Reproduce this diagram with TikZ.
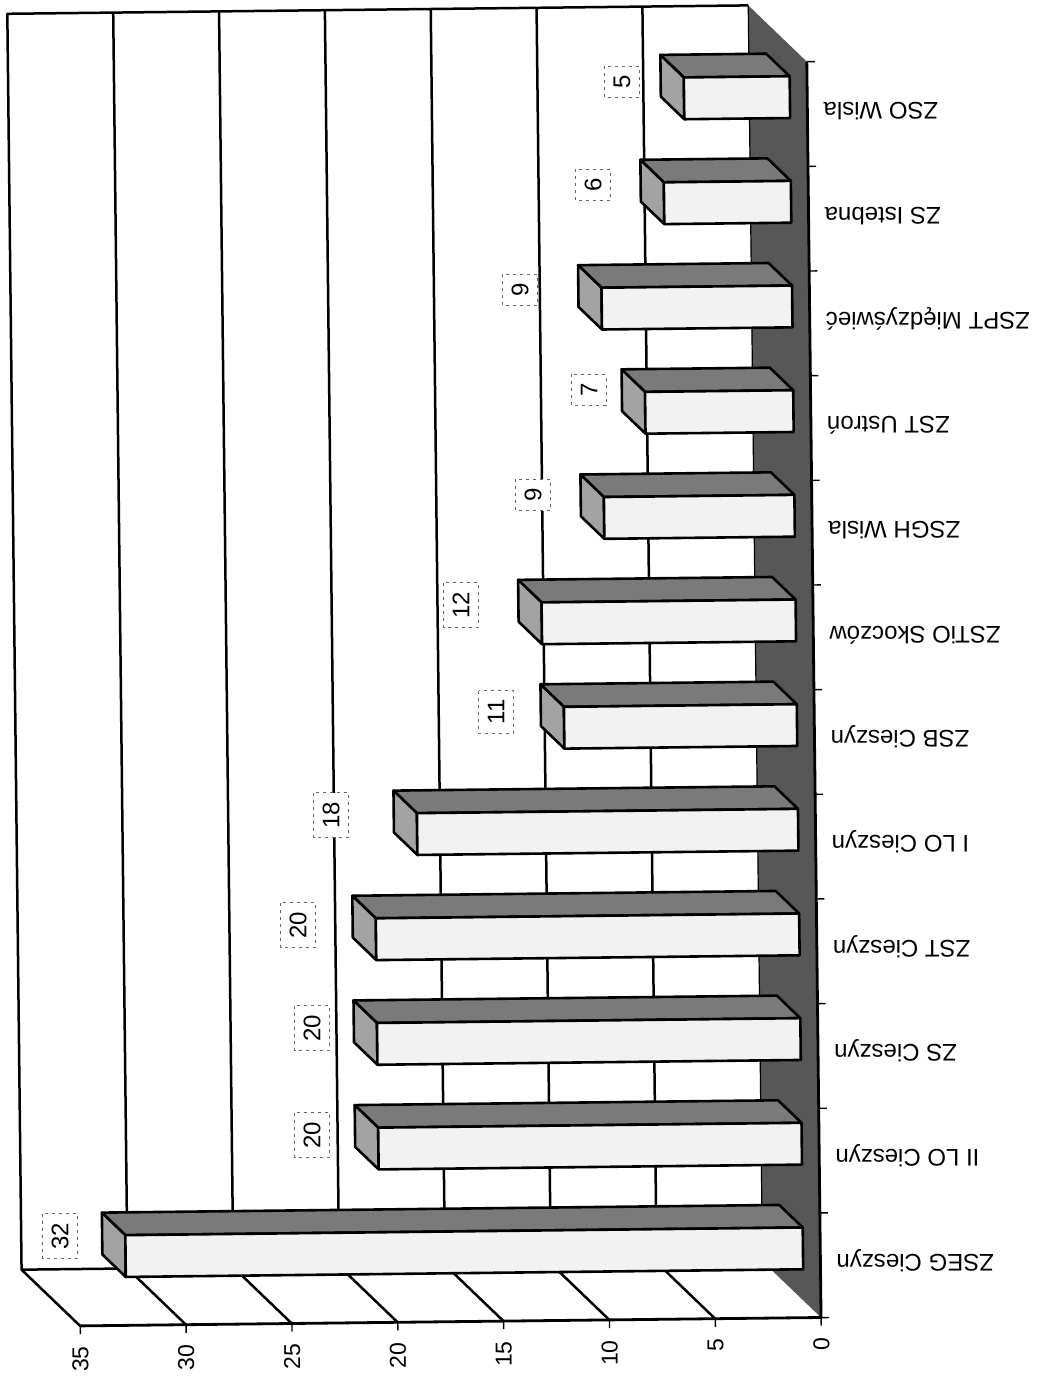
\documentclass[tikz,border=0pt]{standalone}
\usepackage{fontspec}
\setmainfont{Liberation Sans}
\begin{document}
\begin{tikzpicture}[x=1pt,y=-1pt,line join=round,
  axisline/.style={line width=2.8pt,black},
  gridl/.style={line width=2.5pt,black},
  barface/.style={draw=black,line width=2.6pt,fill=black!5},
  barside/.style={draw=black,line width=2.6pt,fill=black!52},
  barcap/.style={draw=black,line width=2.6pt,fill=black!36},
  floorc/.style={fill=black!66},
  catlab/.style={rotate=180,anchor=base east,inner sep=0pt,font=\fontsize{24}{28}\selectfont},
  vallab/.style={rotate=90,anchor=east,inner sep=0pt,font=\fontsize{23}{27}\selectfont},
  datlab/.style={rotate=90,draw=black!60,dash pattern=on 3pt off 4pt,line width=1.1pt,fill=white,inner sep=9pt,font=\fontsize{24}{28}\selectfont}]
\useasboundingbox (0,0) rectangle (1039,1377);
\fill[white] (0,0) rectangle (1039,1377);
\begin{scope}[rotate around={0.65:(520,690)}]
  % floor
  \fill[floorc] (756,8) -- (814,65) -- (814,1321) -- (756,1264) -- cycle;
  % back wall grid lines and side wall diagonals
  \foreach \v in {5,10,...,30}{
    \pgfmathsetmacro\gx{756-21.17*\v}
    \draw[gridl] (\gx,8) -- (\gx,1264) -- ({\gx+58},1321);
  }
  \draw[gridl] (756,8) -- (15,8) -- (15,1264) -- (73,1321);
  \draw[gridl] (15,1264) -- (756,1264);
  \draw[line width=1.2pt] (756,8) -- (756,1264);
  % axes
  \coordinate (o) at (814,1321);
  \coordinate (top) at (814,65);
  \coordinate (vend) at (73,1321);
  \draw[axisline] (top) -- (o) -- (vend);
  \foreach \k in {0,...,12}{
    \draw[line width=1.4pt] (814,{1321-104.67*\k}) -- ++(8,0);
  }
  \foreach \v in {0,5,...,35}{
    \pgfmathsetmacro\tx{814-21.17*\v}
    \draw[line width=1.4pt] (\tx,1321) -- ++(0,8);
    \node[vallab] (v\v) at (\tx,1341) {\v};
  }
  % bars
  \foreach \k/\v/\lab in {0/32/ZSEG Cieszyn,1/20/II LO Cieszyn,2/20/ZS Cieszyn,3/20/ZST Cieszyn,4/18/I LO Cieszyn,5/11/ZSB Cieszyn,6/12/ZSTiO Skoczów,7/9/ZSGH Wisla,8/7/ZST Ustroń,9/9/ZSPT Międzyświeć,10/6/ZS Istebna,11/5/ZSO Wisla}{
    \pgfmathsetmacro\yc{1321-104.67*(\k+0.5)}
    \pgfmathsetmacro\yt{\yc-17.1-20.9}
    \pgfmathsetmacro\yb{\yc-17.1+20.9}
    \pgfmathsetmacro\xa{796.6-21.17*\v}
    \draw[barside] (\xa,\yt) -- (796.6,\yt) -- ({796.6-23.2},{\yt-22.8}) -- ({\xa-23.2},{\yt-22.8}) -- cycle;
    \draw[barcap] (\xa,\yt) -- (\xa,\yb) -- ({\xa-23.2},{\yb-22.8}) -- ({\xa-23.2},{\yt-22.8}) -- cycle;
    \draw[barface] (\xa,\yt) rectangle (796.6,\yb);
    \node[catlab] (c\k) at (830,{\yc-11}) {\lab};
  }
\end{scope}
% data labels
\foreach \k/\v/\px/\py in {0/32/60/1236,1/20/312/1135,2/20/312/1028,3/20/298/925,4/18/331/815,5/11/496/712,6/12/461/605,7/9/533/495,8/7/589/390,9/9/520/290,10/6/593/185,11/5/622/82}{
  \node[datlab] (d\k) at (\px,\py) {\v};
}
\end{tikzpicture}
\end{document}
